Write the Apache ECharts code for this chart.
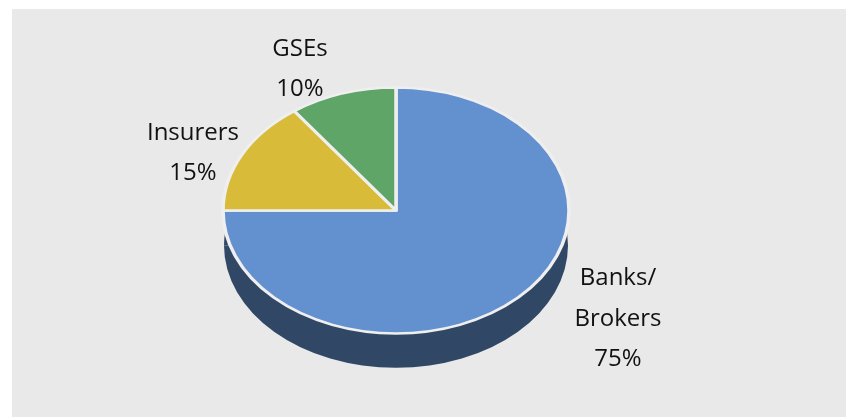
<!DOCTYPE html>
<html>
<head>
<meta charset="utf-8">
<script src="https://cdn.jsdelivr.net/npm/echarts@6/dist/echarts.min.js"></script>
<style>
  html, body { margin: 0; padding: 0; background: #fff; }
  #chart { width: 846px; height: 417px; }
</style>
</head>
<body>
<div id="chart"></div>
<script>
var categories = ['Banks/\nBrokers', 'Insurers', 'GSEs'];
var shares = [75, 15, 10];

var topColors = ['#6391cf', '#d8bb38', '#5fa567'];
var sideColor = '#304866';

// the pie is a flattened circle, so it is drawn with a scaled group
var cx = 396, cy = 210.5, rx = 173, ry = 123, depth = 35;
var labelPos = [[618, 319], [193, 153], [300, 69]];
var total = shares.reduce(function (a, b) { return a + b; }, 0);

function sliceAngles(index) {
    var before = 0;
    for (var i = 0; i < index; i++) before += shares[i];
    var start = -Math.PI / 2 + before / total * Math.PI * 2;
    return [start, start + shares[index] / total * Math.PI * 2];
}

function renderSide(params, api) {
    var a = sliceAngles(params.dataIndex);
    return {
        type: 'group',
        x: cx,
        y: cy + depth,
        scaleY: ry / rx,
        children: [{
            type: 'sector',
            shape: { cx: 0, cy: 0, r0: 0, r: rx - 1, startAngle: a[0], endAngle: a[1] },
            style: { fill: sideColor }
        }]
    };
}

function renderTop(params, api) {
    var i = params.dataIndex;
    var a = sliceAngles(i);
    return {
        type: 'group',
        x: cx,
        y: cy,
        scaleY: ry / rx,
        children: [{
            type: 'sector',
            shape: { cx: 0, cy: 0, r0: 0, r: rx, startAngle: a[0], endAngle: a[1] },
            style: { fill: topColors[i], stroke: '#efefef', lineWidth: 3.5, strokeNoScale: true, lineJoin: 'round' }
        }]
    };
}

var chart = echarts.init(document.getElementById('chart'));

var option = {
    animation: false,
    backgroundColor: '#ffffff',
    graphic: [{
        type: 'rect',
        z: -10,
        silent: true,
        shape: { x: 12, y: 9, width: 834, height: 408 },
        style: { fill: '#e9e9e9' }
    }].concat(categories.map(function (name, i) {
        return {
            type: 'text',
            z: 10,
            x: labelPos[i][0],
            y: labelPos[i][1],
            silent: true,
            style: {
                text: name + '\n' + shares[i] + '%',
                fill: '#111',
                font: '24px "Open Sans"',
                align: 'center',
                verticalAlign: 'middle',
                lineHeight: 40.5
            }
        };
    })),
    series: [
        { type: 'custom', name: 'side', coordinateSystem: 'none', z: 1, silent: true, renderItem: renderSide, data: shares },
        { type: 'custom', name: 'top', coordinateSystem: 'none', z: 2, silent: true, renderItem: renderTop, data: shares }
    ]
};

chart.setOption(option);
</script>
</body>
</html>
